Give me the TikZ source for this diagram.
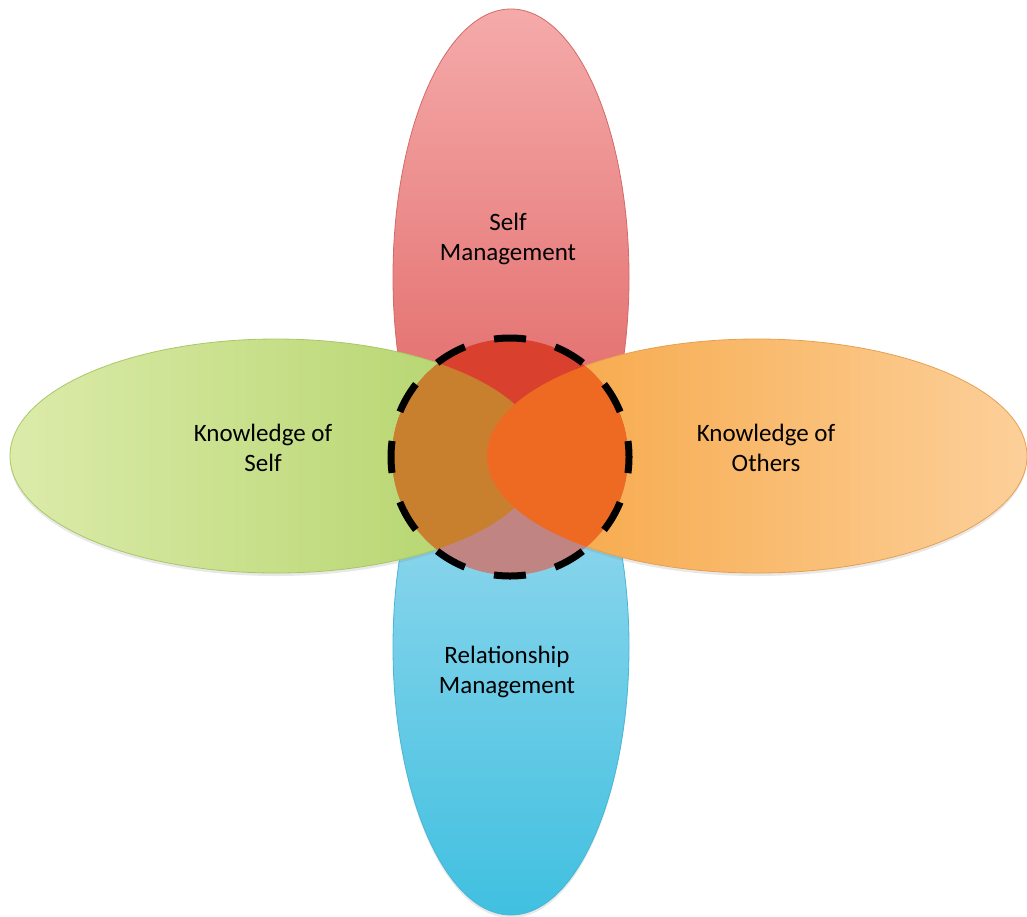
\documentclass[tikz,border=0pt]{standalone}
\usepackage{fontspec}
\setmainfont{Carlito}
\usetikzlibrary{shapes.geometric,shadows}
\definecolor{redTop}{HTML}{F5AAAA}
\definecolor{redBot}{HTML}{DC5A58}
\definecolor{redEdge}{HTML}{D46A68}
\definecolor{blueTop}{HTML}{A6DDF0}
\definecolor{blueBot}{HTML}{40C0E0}
\definecolor{blueEdge}{HTML}{4AB6D6}
\definecolor{greenL}{HTML}{DCEBAA}
\definecolor{greenR}{HTML}{B0D266}
\definecolor{greenEdge}{HTML}{A8C866}
\definecolor{orangeL}{HTML}{F6A440}
\definecolor{orangeR}{HTML}{FCD09A}
\definecolor{orangeEdge}{HTML}{E6A050}
\definecolor{coreRed}{HTML}{D9402E}
\definecolor{coreMauve}{HTML}{C08482}
\definecolor{coreBrown}{HTML}{C9802E}
\definecolor{coreOrange}{HTML}{EE6A22}
\begin{document}
\begin{tikzpicture}[x=1pt,y=-1pt,
  petal/.style={ellipse, inner sep=0pt, line width=0.8pt,
    drop shadow={opacity=0.18, shadow xshift=0pt, shadow yshift=-3pt}},
  vpetal/.style={petal, minimum width=236pt, minimum height=536pt},
  hpetal/.style={petal, minimum width=532pt, minimum height=234pt},
  lbl/.style={align=center, font=\fontsize{25}{30}\selectfont, text=black, inner sep=0pt},
  ring/.style={circle, inner sep=0pt, minimum size=238pt, draw=black, line width=7pt,
    dash pattern=on 32pt off 30.3pt, dash phase=16pt}
]
\useasboundingbox (0,0) rectangle (1027,916);
% petals
\node[vpetal, draw=redEdge, top color=redTop, bottom color=redBot] (sm) at (511,277) {};
\node[vpetal, draw=blueEdge, top color=blueTop, bottom color=blueBot] (rm) at (511,647) {};
\node[hpetal, draw=greenEdge, left color=greenL, right color=greenR] (ks) at (276,456) {};
\node[hpetal, minimum width=540pt, draw=orangeEdge, left color=orangeL, right color=orangeR] (ko) at (757,456) {};
% darker core
\begin{scope}
  \clip (510,457) circle [radius=118];
  \fill[coreRed] (380,320) rectangle (640,457);
  \fill[coreMauve] (380,457) rectangle (640,600);
  \fill[coreBrown] (276,456) ellipse [x radius=266, y radius=117];
  \fill[coreOrange] (757,456) ellipse [x radius=270, y radius=117];
\end{scope}
\node[ring] (core) at (510,457) {};
% labels
\node[lbl] (tsm) at (508,239) {Self\\Management};
\node[lbl] (tks) at (263,448) {Knowledge of\\Self};
\node[lbl] (tko) at (766,448) {Knowledge of\\Others};
\node[lbl] (trm) at (507,672) {Relationship\\Management};
\end{tikzpicture}
\end{document}
